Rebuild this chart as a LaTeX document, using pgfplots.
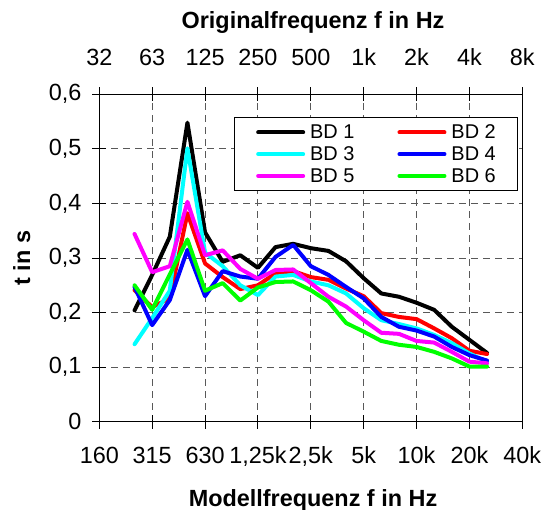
\documentclass[border=0pt]{standalone}
\usepackage{fontspec}
\setmainfont{Liberation Sans}
\usepackage{pgfplots}
\usepackage{pgfplotstable}
\pgfplotsset{compat=1.18}
\definecolor{xred}{RGB}{255,0,0}
\definecolor{xcyan}{RGB}{0,255,255}
\definecolor{xblue}{RGB}{0,0,255}
\definecolor{xmagenta}{RGB}{255,0,255}
\definecolor{xgreen}{RGB}{0,255,0}
% x = third-octave index above 160 Hz (250 Hz = 2 ... 25 kHz = 22)
\pgfplotstableread{
i  bda   bdb   bdc   bdd   bde   bdf
2  0.204 0.241 0.142 0.247 0.344 0.250
3  0.269 0.210 0.190 0.177 0.274 0.205
4  0.339 0.226 0.240 0.223 0.285 0.270
5  0.548 0.382 0.501 0.315 0.403 0.334
6  0.347 0.290 0.310 0.230 0.305 0.240
7  0.293 0.265 0.285 0.276 0.314 0.254
8  0.305 0.243 0.250 0.266 0.280 0.222
9  0.282 0.250 0.232 0.262 0.262 0.246
10 0.320 0.272 0.266 0.302 0.278 0.256
11 0.326 0.276 0.269 0.324 0.279 0.257
12 0.318 0.265 0.257 0.285 0.254 0.241
13 0.313 0.260 0.250 0.269 0.229 0.220
14 0.294 0.244 0.235 0.247 0.211 0.181
15 0.263 0.230 0.208 0.226 0.186 0.165
16 0.235 0.199 0.186 0.192 0.163 0.148
17 0.229 0.192 0.179 0.174 0.161 0.141
18 0.218 0.188 0.171 0.167 0.148 0.137
19 0.205 0.171 0.159 0.156 0.145 0.128
20 0.174 0.153 0.144 0.137 0.128 0.116
21 0.150 0.130 0.125 0.122 0.110 0.101
22 0.126 0.124 0.110 0.112 0.107 0.101
}\data
\begin{document}
\begin{tikzpicture}
\begin{axis}[
  at={(0,0)}, anchor=south west,
  scale only axis, width=423bp, height=327.4bp,
  xmin=0, xmax=24, ymin=0, ymax=0.6,
  xtick={0,3,6,9,12,15,18,21,24},
  xticklabels={160,315,630,{1,25k},{2,5k},5k,10k,20k,40k},
  ytick={0,0.1,0.2,0.3,0.4,0.5,0.6},
  yticklabels={0,{0,1},{0,2},{0,3},{0,4},{0,5},{0,6}},
  xtick pos=lower, ytick pos=left,
  tick align=center, major tick length=14bp,
  tick style={black, line width=1bp},
  axis line style={black, line width=1bp},
  grid=major,
  major grid style={dash pattern=on 7bp off 5bp, black!65, line width=1bp},
  tick label style={font=\fontsize{23.5}{23.5}\selectfont},
  xticklabel style={anchor=base, yshift=-34.6bp, inner sep=0pt},
  yticklabel style={anchor=east, xshift=-10.6bp, inner sep=0pt},
  legend columns=2,
  legend style={at={(0.9905,0.9298)}, anchor=north east,
    draw=black, line width=1bp, fill=white,
    font=\fontsize{20}{20}\selectfont,
    inner xsep=22bp, inner ysep=7bp, row sep=6.3bp,
    nodes={inner sep=0pt},
    /tikz/every odd column/.append style={column sep=5bp},
    /tikz/every even column/.append style={column sep=43bp}},
  legend image code/.code={\draw[#1] (0bp,0bp) -- (45bp,0bp);},
  every axis plot/.append style={line width=4bp, line join=round, line cap=round},
]
\addplot[black]    table[x=i, y=bda] {\data};
\addlegendentry{BD 1}
\addplot[xred]     table[x=i, y=bdb] {\data};
\addlegendentry{BD 2}
\addplot[xcyan]    table[x=i, y=bdc] {\data};
\addlegendentry{BD 3}
\addplot[xblue]    table[x=i, y=bdd] {\data};
\addlegendentry{BD 4}
\addplot[xmagenta] table[x=i, y=bde] {\data};
\addlegendentry{BD 5}
\addplot[xgreen]   table[x=i, y=bdf] {\data};
\addlegendentry{BD 6}
\end{axis}
\begin{axis}[
  at={(0,0)}, anchor=south west,
  scale only axis, width=423bp, height=327.4bp,
  xmin=0, xmax=24, ymin=0, ymax=0.6,
  axis x line*=top, axis y line=none,
  xtick={0,3,6,9,12,15,18,21,24},
  xticklabels={32,63,125,250,500,1k,2k,4k,8k},
  tick align=center, major tick length=14bp,
  tick style={black, line width=1bp},
  axis line style={black, line width=1bp, -},
  tick label style={font=\fontsize{23.5}{23.5}\selectfont},
  xticklabel style={anchor=base, yshift=21.6bp, inner sep=0pt},
]
\addplot[draw=none] coordinates {(0,0)};
\end{axis}
\node[anchor=base, font=\bfseries\fontsize{23.5}{23.5}\selectfont] at (213.7bp,393.4bp) {Originalfrequenz f in Hz};
\node[anchor=base, font=\bfseries\fontsize{23.5}{23.5}\selectfont] at (213.7bp,-84.3bp) {Modellfrequenz f in Hz};
\node[rotate=90, font=\bfseries\fontsize{23.5}{23.5}\selectfont] at (-77.6bp,163.7bp) {t in s};
\pgfresetboundingbox
\path (-99.3bp,-88.3bp) rectangle (451.7bp,421.7bp);
\end{tikzpicture}
\end{document}
